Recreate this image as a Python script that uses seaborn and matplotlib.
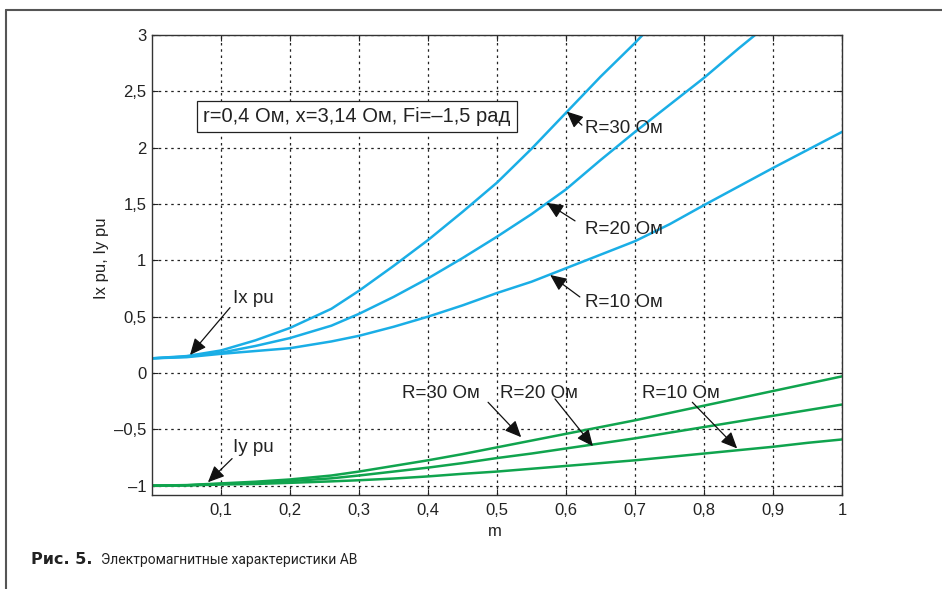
import matplotlib
matplotlib.use("Agg")
import matplotlib.pyplot as plt
from matplotlib.lines import Line2D
from matplotlib.ticker import FuncFormatter
import seaborn as sns
import pandas as pd

# данные
m = [0, 0.05, 0.1, 0.15, 0.2, 0.26, 0.3, 0.35, 0.4, 0.45, 0.5,
     0.55, 0.6, 0.65, 0.7, 0.75, 0.8, 0.85, 0.9, 0.95, 1.0]

ix_r30 = [0.13, 0.15, 0.20, 0.29, 0.40, 0.57, 0.73, 0.95, 1.18, 1.43, 1.69,
          1.99, 2.31, 2.63, 2.93, 3.25, 3.55, 3.85, 4.15, 4.45, 4.75]
ix_r20 = [0.13, 0.145, 0.18, 0.24, 0.31, 0.42, 0.525, 0.675, 0.84, 1.02, 1.21,
          1.41, 1.63, 1.89, 2.14, 2.38, 2.62, 2.88, 3.13, 3.38, 3.63]
ix_r10 = [0.13, 0.14, 0.17, 0.195, 0.22, 0.28, 0.33, 0.41, 0.50, 0.60, 0.71,
          0.81, 0.93, 1.05, 1.17, 1.32, 1.49, 1.655, 1.82, 1.98, 2.14]

iy_r30 = [-1.0, -0.995, -0.98, -0.965, -0.945, -0.91, -0.875, -0.825, -0.775, -0.72, -0.66,
          -0.60, -0.54, -0.48, -0.42, -0.355, -0.29, -0.225, -0.16, -0.095, -0.03]
iy_r20 = [-1.0, -0.997, -0.985, -0.975, -0.96, -0.935, -0.91, -0.875, -0.84, -0.80, -0.755,
          -0.715, -0.67, -0.625, -0.58, -0.53, -0.48, -0.43, -0.38, -0.33, -0.28]
iy_r10 = [-1.0, -0.998, -0.99, -0.985, -0.975, -0.962, -0.952, -0.937, -0.918, -0.895, -0.875,
          -0.85, -0.825, -0.80, -0.775, -0.745, -0.715, -0.685, -0.655, -0.62, -0.59]

x_ticks = [0.1, 0.2, 0.3, 0.4, 0.5, 0.6, 0.7, 0.8, 0.9, 1.0]
y_ticks = [-1, -0.5, 0, 0.5, 1, 1.5, 2, 2.5, 3]

BLUE = "#1aaee6"
GREEN = "#10a44e"

rows = []
for name, vals in [("Ix R30", ix_r30), ("Ix R20", ix_r20), ("Ix R10", ix_r10),
                   ("Iy R30", iy_r30), ("Iy R20", iy_r20), ("Iy R10", iy_r10)]:
    for a, b in zip(m, vals):
        rows.append({"m": a, "I": b, "curve": name})
df = pd.DataFrame(rows)
palette = {"Ix R30": BLUE, "Ix R20": BLUE, "Ix R10": BLUE,
           "Iy R30": GREEN, "Iy R20": GREEN, "Iy R10": GREEN}

sns.set_style("ticks")
plt.rcParams["font.family"] = ["Liberation Sans", "DejaVu Sans"]

fig = plt.figure(figsize=(9.42, 5.89), dpi=100)
ax = fig.add_axes([0.1614, 0.1596, 0.7325, 0.781])

sns.lineplot(data=df, x="m", y="I", hue="curve", palette=palette,
             linewidth=1.8, legend=False, ax=ax, estimator=None, sort=False)

ax.set_xlim(0, 1)
ax.set_ylim(-1.083, 3)
ax.set_xticks(x_ticks)
ax.set_yticks(y_ticks)
fmt = FuncFormatter(lambda v, p: f"{v:g}".replace(".", ",").replace("-", "–"))
ax.xaxis.set_major_formatter(fmt)
ax.yaxis.set_major_formatter(fmt)
ax.tick_params(direction="in", top=True, right=True, length=4, width=0.8,
               labelsize=12, colors="#222222", pad=4)
ax.tick_params(axis="x", pad=6)
ax.grid(True, linestyle=(0, (2, 3)), color="#222222", linewidth=0.9)
for s in ax.spines.values():
    s.set_color("#333333")
    s.set_linewidth(1.0)

ax.set_xlabel("m", fontsize=12, color="#222222")
ax.set_ylabel("Ix pu, Iy pu", fontsize=12, color="#222222")
ax.xaxis.set_label_coords(0.497, -0.062)
ax.yaxis.set_label_coords(-0.062, 0.515)

# подписи и стрелки
tfs = 13.5
ax.text(0.297, 2.28, "r=0,4 Ом, x=3,14 Ом, Fi=–1,5 рад", fontsize=14.5,
        ha="center", va="center", color="#222222",
        bbox=dict(boxstyle="square,pad=0.3", fc="white", ec="#222222", lw=0.9))

labels = [
    ("Ix pu", 0.117, 0.62), ("Iy pu", 0.117, -0.70),
    ("R=30 Ом", 0.628, 2.13), ("R=20 Ом", 0.628, 1.23), ("R=10 Ом", 0.628, 0.59),
    ("R=30 Ом", 0.362, -0.22), ("R=20 Ом", 0.504, -0.22), ("R=10 Ом", 0.710, -0.22),
]
for t, x, y in labels:
    ax.text(x, y, t, fontsize=tfs, ha="left", va="baseline", color="#222222")

arrows = [
    ((0.113, 0.58), (0.055, 0.16)), ((0.116, -0.76), (0.081, -0.97)),
    ((0.623, 2.20), (0.601, 2.32)), ((0.613, 1.35), (0.572, 1.51)),
    ((0.620, 0.675), (0.577, 0.87)),
    ((0.487, -0.26), (0.535, -0.57)), ((0.584, -0.23), (0.639, -0.65)),
    ((0.783, -0.26), (0.848, -0.67)),
]
for tail, head in arrows:
    ax.annotate("", xy=head, xytext=tail,
                arrowprops=dict(arrowstyle="-|>,head_length=1.0,head_width=0.45",
                                color="#111111", lw=0.9, shrinkA=0, shrinkB=0))

# рамка и подпись рисунка
fig.add_artist(Line2D([6 / 942, 1], [1 - 10 / 589, 1 - 10 / 589],
                      transform=fig.transFigure, color="#555555", lw=1.5))
fig.add_artist(Line2D([6 / 942, 6 / 942], [0, 1 - 10 / 589],
                      transform=fig.transFigure, color="#555555", lw=1.5))
fig.text(31 / 942, 1 - 560 / 589, "Рис. 5.", fontsize=11.5, fontweight="bold",
         family=["DejaVu Sans"], va="center", ha="left", color="#222222")
fig.text(101 / 942, 1 - 560 / 589, "Электромагнитные характеристики АВ", fontsize=10,
         family=["Liberation Sans Narrow", "Roboto", "DejaVu Sans"],
         va="center", ha="left", color="#222222")

fig.savefig("out.png", dpi=100)
